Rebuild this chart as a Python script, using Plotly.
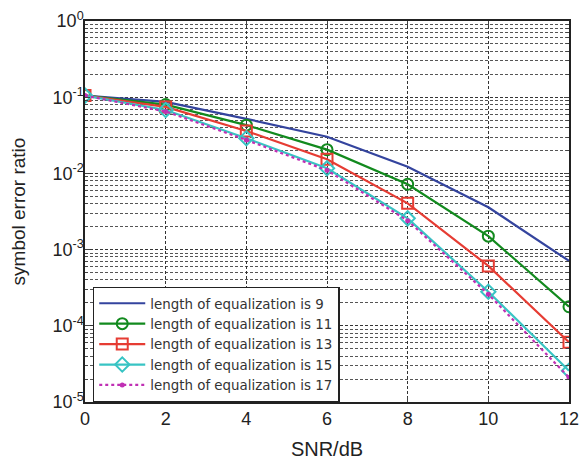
import plotly.graph_objects as go

snr = [0, 2, 4, 6, 8, 10, 12]
ser_9 = [0.105, 0.087, 0.052, 0.0303, 0.0122, 0.0036, 0.00071]
ser_11 = [0.105, 0.080, 0.043, 0.0205, 0.0072, 0.0015, 0.000178]
ser_13 = [0.105, 0.0745, 0.036, 0.0153, 0.00405, 0.00061, 0.0000607]
ser_15 = [0.105, 0.068, 0.0289, 0.0117, 0.00257, 0.00028, 0.0000257]
ser_17 = [0.105, 0.065, 0.0275, 0.0110, 0.00240, 0.00026, 0.0000210]
names = ["length of equalization is 9", "length of equalization is 11",
         "length of equalization is 13", "length of equalization is 15",
         "length of equalization is 17"]
y_tickvals = [1e-5, 1e-4, 1e-3, 1e-2, 1e-1, 1e0]
y_ticktext = ["10<sup>-5</sup>", "10<sup>-4</sup>", "10<sup>-3</sup>",
              "10<sup>-2</sup>", "10<sup>-1</sup>", "10<sup>0</sup>"]

minor_vals = [m * d for d in [1e-5, 1e-4, 1e-3, 1e-2, 1e-1] for m in range(2, 10)]

fig = go.Figure()
styles = [
    dict(color="#34449e", symbol=None, dash="solid"),
    dict(color="#128a1e", symbol="circle-open", dash="solid"),
    dict(color="#e63c33", symbol="square-open", dash="solid"),
    dict(color="#38c4c4", symbol="diamond-open", dash="solid"),
    dict(color="#c030b4", symbol="circle", dash="dot"),
]
series = [ser_9, ser_11, ser_13, ser_15, ser_17]
for s, st, nm in zip(series, styles, names):
    if st["symbol"] is None:
        mode = "lines"
        marker = None
    else:
        mode = "lines+markers"
        if st["symbol"] == "circle":
            marker = dict(symbol="circle", size=5, color=st["color"])
        else:
            marker = dict(symbol=st["symbol"], size=11, color=st["color"],
                          line=dict(width=2, color=st["color"]))
    fig.add_trace(go.Scatter(
        x=snr, y=s, name=nm, mode=mode,
        line=dict(color=st["color"], width=2.2, dash=st["dash"]),
        marker=marker,
    ))

fig.update_layout(
    width=584, height=461,
    margin=dict(l=85, r=15, t=21, b=59),
    paper_bgcolor="white", plot_bgcolor="white",
    font=dict(family="Liberation Sans, Arial, sans-serif", color="#222"),
    legend=dict(
        x=0.016, y=0.303, xanchor="left", yanchor="top",
        bgcolor="white", bordercolor="#222", borderwidth=1.5,
        font=dict(size=13.4, color="#333", family="DejaVu Sans, sans-serif"),
        itemwidth=46, tracegroupgap=0,
    ),
    showlegend=True,
)
fig.update_xaxes(
    range=[0, 12], tickvals=snr, ticks="inside", ticklen=5, automargin=False,
    tickfont=dict(size=18), showline=True, linecolor="#222", linewidth=1.5,
    mirror="ticks", showgrid=True, gridcolor="#333", griddash="3px,2px",
    gridwidth=1, zeroline=False,
    title=dict(text="SNR/dB", font=dict(size=20), standoff=14),
)
fig.update_yaxes(
    type="log", range=[-5, 0], tickvals=y_tickvals, ticktext=y_ticktext,
    ticks="inside", ticklen=5, tickfont=dict(size=18), automargin=False,
    ticklabelstandoff=-4,
    showline=True, linecolor="#222", linewidth=1.5, mirror="ticks",
    showgrid=True, gridcolor="#333", griddash="3px,2px", gridwidth=1,
    zeroline=False,
    minor=dict(tickvals=minor_vals, ticks="inside", ticklen=3,
               showgrid=True, gridcolor="#555", griddash="3px,2px", gridwidth=1),
    title=dict(text="symbol error ratio", font=dict(size=19), standoff=22),
)

fig.write_html("out.html", config={"displayModeBar": False},
               post_script="document.body.style.margin='0px';")
